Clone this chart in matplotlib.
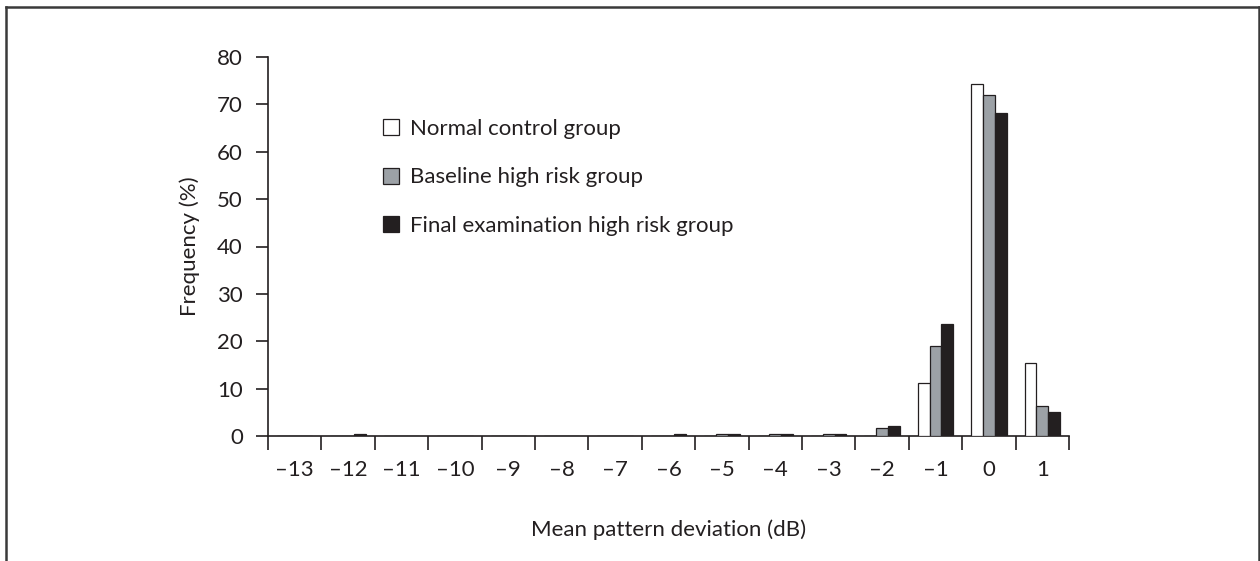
import matplotlib
matplotlib.use("Agg")
import matplotlib.pyplot as plt
from matplotlib.lines import Line2D
import numpy as np

plt.rcParams['font.family'] = ['Lato', 'DejaVu Sans']

categories = ["\u201313", "\u201312", "\u201311", "\u201310", "\u20139", "\u20138", "\u20137",
              "\u20136", "\u20135", "\u20134", "\u20133", "\u20132", "\u20131", "0", "1"]
normal = [0, 0, 0, 0, 0, 0, 0, 0, 0, 0, 0, 0, 11.1, 74.3, 15.5]
baseline = [0, 0, 0, 0, 0, 0, 0, 0, 0.4, 0.4, 0.4, 1.6, 19.0, 71.9, 6.3]
final = [0, 0.4, 0, 0, 0, 0, 0, 0.4, 0.4, 0.4, 0.4, 2.1, 23.6, 68.1, 5.0]
series_names = ["Normal control group", "Baseline high risk group",
                "Final examination high risk group"]
colors = ["#ffffff", "#9ca1a6", "#231f20"]
edge = "#231f20"
fs = 16

fig = plt.figure(figsize=(12.6, 5.61), dpi=100)
ax = fig.add_axes([268/1260, 1-436/561, (1069-268)/1260, (436-57)/561])

n = len(categories)
centers = np.arange(n) + 0.5
w = 0.22
handles = []
for k, (vals, c, name) in enumerate(zip([normal, baseline, final], colors, series_names)):
    b = ax.bar(centers + (k-1)*w, vals, width=w, color=c, edgecolor=edge,
               linewidth=0.9, label=name, zorder=3)
    handles.append(b)

ax.set_xlim(0, n)
ax.set_ylim(0, 80)
ax.set_yticks(np.arange(0, 81, 10))
ax.set_xticks(np.arange(0, n+1))
ax.set_xticklabels([])
ax.set_xticks(centers, minor=True)
ax.set_xticklabels(categories, minor=True)
ax.tick_params(axis='x', which='major', direction='out', length=10, width=1.2, color=edge)
ax.tick_params(axis='x', which='minor', length=0, pad=17, labelsize=fs, labelcolor='#231f20')
ax.tick_params(axis='y', direction='out', length=9, width=1.2, color=edge, pad=9,
               labelsize=fs, labelcolor='#231f20')
for s in ['top', 'right']:
    ax.spines[s].set_visible(False)
for s in ['left', 'bottom']:
    ax.spines[s].set_linewidth(1.2)
    ax.spines[s].set_color(edge)

ax.set_ylabel("Frequency (%)", fontsize=fs, color='#231f20', labelpad=12)
ax.set_xlabel("Mean pattern deviation (dB)", fontsize=fs, color='#231f20', labelpad=29)

ax.legend(handles=handles, labels=series_names, loc='upper left',
          bbox_to_anchor=(383/1260, 1-119/561), bbox_transform=fig.transFigure,
          frameon=False, fontsize=fs, handlelength=0.72, handleheight=0.72,
          handletextpad=0.5, labelspacing=1.28, borderpad=0, borderaxespad=0,
          labelcolor='#231f20')

# outer frame
fc = "#3a3a3a"
fig.add_artist(Line2D([6/1260, 6/1260], [0, 1-7/561], transform=fig.transFigure, color=fc, lw=1.8))
fig.add_artist(Line2D([6/1260, 1259/1260], [1-7/561, 1-7/561], transform=fig.transFigure, color=fc, lw=1.8))
fig.add_artist(Line2D([1259/1260, 1259/1260], [0, 1-7/561], transform=fig.transFigure, color=fc, lw=1.8))

fig.savefig("out.png", dpi=100)
